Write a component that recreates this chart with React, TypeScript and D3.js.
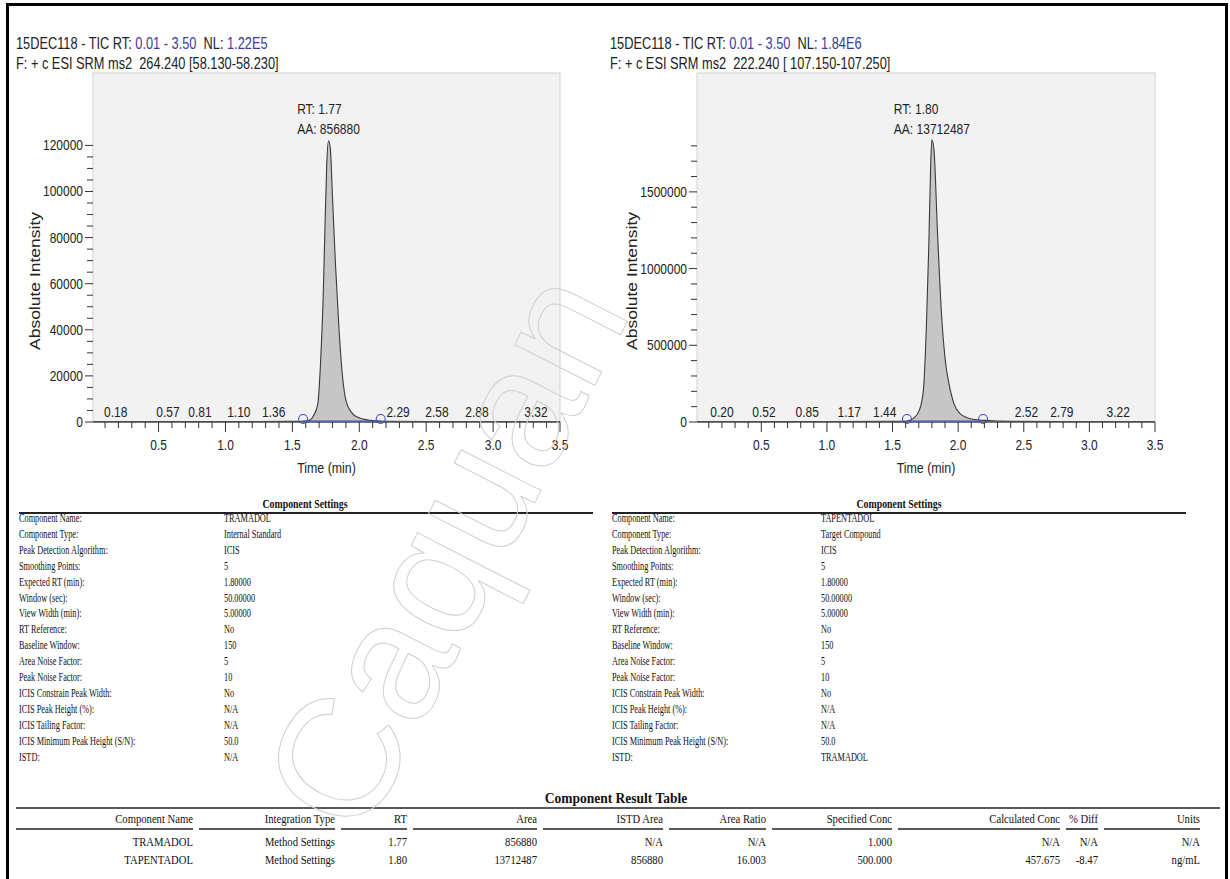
import React from 'react';
import * as d3 from 'd3';

const W = 1230;
const H = 879;
const SANS = "'Liberation Sans', Arial, sans-serif";
const SERIF = "'Liberation Serif', 'Times New Roman', serif";
const BLUE = '#3a3a9e';
const CIRCLE_BLUE = '#3f4fc4';

// ---------------- Chromatogram data ----------------
const TIME_RANGE = [0.01, 3.5];

// TRAMADOL (internal standard) trace: time (min) / intensity
const tramadolTimes = [0.01, 0.5, 1.0, 1.5, 1.59, 1.635, 1.66, 1.69, 1.71, 1.73, 1.743, 1.757, 1.77, 1.783, 1.8, 1.822, 1.849, 1.875, 1.9, 1.94, 1.993, 2.085, 2.19, 2.5, 3.0, 3.5];
const tramadolIntensity = [200, 200, 200, 250, 300, 1000, 2900, 7900, 25000, 54000, 83000, 112000, 122000, 119000, 97400, 68500, 39700, 19500, 9400, 4300, 1900, 700, 300, 200, 200, 200];
const tramadolPeakLabels = ['0.18', '0.57', '0.81', '1.10', '1.36', '2.29', '2.58', '2.88', '3.32'];
const tramadolIntegration = [1.58, 2.16];

// TAPENTADOL (target compound) trace
const tapentadolTimes = [0.01, 1.0, 1.55, 1.61, 1.656, 1.704, 1.735, 1.757, 1.776, 1.791, 1.8, 1.816, 1.842, 1.873, 1.905, 1.93, 1.968, 2.014, 2.092, 2.2, 2.41, 3.0, 3.5];
const tapentadolIntensity = [3000, 3000, 4000, 6500, 21700, 76000, 206000, 598000, 1141000, 1684000, 1840000, 1771000, 1250000, 706000, 380000, 250000, 120000, 54000, 21700, 10800, 4000, 3000, 3000];
const tapentadolPeakLabels = ['0.20', '0.52', '0.85', '1.17', '1.44', '2.52', '2.79', '3.22'];
const tapentadolIntegration = [1.61, 2.19];

const xMajorTicks = [0.5, 1.0, 1.5, 2.0, 2.5, 3.0, 3.5];
const leftYMajor = [0, 20000, 40000, 60000, 80000, 100000, 120000];
const rightYMajor = [0, 500000, 1000000, 1500000];

const leftTitle1 = ['15DEC118 - TIC RT: ', '0.01 - 3.50', '  NL: ', '1.22E5'];
const leftTitle2 = 'F: + c ESI SRM ms2  264.240 [58.130-58.230]';
const rightTitle1 = ['15DEC118 - TIC RT: ', '0.01 - 3.50', '  NL: ', '1.84E6'];
const rightTitle2 = 'F: + c ESI SRM ms2  222.240 [ 107.150-107.250]';

// ---------------- Settings tables ----------------
const settingLabels = [
  'Component Name:', 'Component Type:', 'Peak Detection Algorithm:', 'Smoothing Points:',
  'Expected RT (min):', 'Window (sec):', 'View Width (min):', 'RT Reference:',
  'Baseline Window:', 'Area Noise Factor:', 'Peak Noise Factor:', 'ICIS Constrain Peak Width:',
  'ICIS Peak Height (%):', 'ICIS Tailing Factor:', 'ICIS Minimum Peak Height (S/N):', 'ISTD:',
];
const tramadolSettings = ['TRAMADOL', 'Internal Standard', 'ICIS', '5', '1.80000', '50.00000', '5.00000', 'No', '150', '5', '10', 'No', 'N/A', 'N/A', '50.0', 'N/A'];
const tapentadolSettings = ['TAPENTADOL', 'Target Compound', 'ICIS', '5', '1.80000', '50.00000', '5.00000', 'No', '150', '5', '10', 'No', 'N/A', 'N/A', '50.0', 'TRAMADOL'];

// ---------------- Result table ----------------
const resultHeaders = ['Component Name', 'Integration Type', 'RT', 'Area', 'ISTD Area', 'Area Ratio', 'Specified Conc', 'Calculated Conc', '% Diff', 'Units'];
const tramadolResult = ['TRAMADOL', 'Method Settings', '1.77', '856880', 'N/A', 'N/A', '1.000', 'N/A', 'N/A', 'N/A'];
const tapentadolResult = ['TAPENTADOL', 'Method Settings', '1.80', '13712487', '856880', '16.003', '500.000', '457.675', '-8.47', 'ng/mL'];

// ---------------- helpers ----------------
let _ctx: CanvasRenderingContext2D | null = null;
function measure(text: string, size: number, family = 'Liberation Sans') {
  if (!_ctx && typeof document !== 'undefined') {
    _ctx = document.createElement('canvas').getContext('2d');
  }
  if (!_ctx) return text.length * size * 0.55;
  _ctx.font = `${size}px "${family}"`;
  return _ctx.measureText(text).width;
}

function NText(props: any) {
  const { x, y, k = 0.8, size = 15, anchor = 'start', fill = '#222', family = SANS, weight = 'normal', children } = props;
  return (
    <text
      transform={`translate(${x},${y}) scale(${k},1)`}
      fontSize={size}
      textAnchor={anchor}
      fill={fill}
      fontFamily={family}
      fontWeight={weight}
      style={{ whiteSpace: 'pre' }}
    >
      {children}
    </text>
  );
}

function interpAt(times: number[], vals: number[], t: number) {
  const i = Math.max(0, Math.min(times.length - 2, d3.bisectRight(times, t) - 1));
  const f = (t - times[i]) / (times[i + 1] - times[i]);
  return vals[i] + f * (vals[i + 1] - vals[i]);
}

const TOP = 73;
const BASE = 422;

function Chromatogram(props: any) {
  const { x0, x1, yTop, yMajor, yMinorStep, yMinorMax, times, values, peakLabels, integ, rt, rtText, aaText, titleX, title1, title2, yTitleX } = props;
  const x = d3.scaleLinear().domain(TIME_RANGE).range([x0, x1]);
  const y = d3.scaleLinear().domain([0, yTop]).range([BASE, TOP]);
  const pts: [number, number][] = times.map((t: number, i: number) => [t, values[i]]);
  const line = d3.line<[number, number]>().x(d => x(d[0])).y(d => y(d[1])).curve(d3.curveMonotoneX);
  const fillPts: [number, number][] = [
    [integ[0], interpAt(times, values, integ[0])],
    ...pts.filter(p => p[0] > integ[0] && p[0] < integ[1]),
    [integ[1], interpAt(times, values, integ[1])],
  ];
  const area = d3.area<[number, number]>().x(d => x(d[0])).y0(y(0)).y1(d => y(d[1])).curve(d3.curveMonotoneX);

  const xMinor = d3.range(1, 35).map(v => v / 10).filter(v => Math.abs(v * 2 - Math.round(v * 2)) > 1e-6);
  const yMinor = d3.range(0, yMinorMax + 1, yMinorStep).filter((v: number) => !yMajor.includes(v));

  const aaW = measure(aaText, 15) * 0.8;
  const annX = x(rt) - aaW / 2;

  return (
    <g>
      {/* titles */}
      <NText x={titleX} y={49} size={16}>
        <tspan fill="#222">{title1[0]}</tspan>
        <tspan fill={BLUE}>{title1[1]}</tspan>
        <tspan fill="#222">{title1[2]}</tspan>
        <tspan fill={BLUE}>{title1[3]}</tspan>
      </NText>
      <NText x={titleX} y={68.5} size={16}>{title2}</NText>

      {/* plot box */}
      <rect x={x0} y={TOP} width={x1 - x0} height={BASE - TOP} fill="#f2f2f2" stroke="#d2d2d2" strokeWidth={1} />

      {/* y axis ticks */}
      {yMinor.map((v: number) => (
        <line key={'ym' + v} x1={x0 - 6} x2={x0} y1={y(v)} y2={y(v)} stroke="#333" strokeWidth={1} />
      ))}
      {yMajor.map((v: number) => (
        <g key={'yM' + v}>
          <line x1={x0 - 8} x2={x0} y1={y(v)} y2={y(v)} stroke="#333" strokeWidth={1} />
          <NText x={x0 - 10} y={y(v) + 5} size={15} anchor="end">{String(v)}</NText>
        </g>
      ))}
      <text
        transform={`translate(${yTitleX},281) scale(0.8,1) rotate(-90)`}
        fontSize={17.5}
        fontFamily={SANS}
        textAnchor="middle"
        fill="#222"
      >
        Absolute Intensity
      </text>

      {/* integrated area */}
      <path d={area(fillPts) || ''} fill="#c6c6c6" />
      {/* trace */}
      <path d={line(pts) || ''} fill="none" stroke="#3a3a3a" strokeWidth={1.1} />

      {/* x axis */}
      <line x1={x0} x2={x1} y1={BASE} y2={BASE} stroke="#555" strokeWidth={1.6} />
      {xMinor.map(v => (
        <line key={'xm' + v} x1={x(v)} x2={x(v)} y1={BASE} y2={BASE + 6} stroke="#333" strokeWidth={1} />
      ))}
      {xMajorTicks.map(v => (
        <g key={'xM' + v}>
          <line x1={x(v)} x2={x(v)} y1={BASE} y2={BASE + 10} stroke="#333" strokeWidth={1} />
          <NText x={x(v)} y={450} size={15} anchor="middle">{v.toFixed(1)}</NText>
        </g>
      ))}
      <NText x={(x0 + x1) / 2} y={473} size={15.5} anchor="middle">Time (min)</NText>

      {/* integration baseline + markers */}
      <line x1={x(integ[0])} x2={x(integ[1])} y1={BASE - 1} y2={BASE - 1} stroke={CIRCLE_BLUE} strokeWidth={1.2} />
      {integ.map((t: number) => (
        <circle key={'c' + t} cx={x(t)} cy={BASE - 3} r={4.5} fill="none" stroke={CIRCLE_BLUE} strokeWidth={1.1} />
      ))}

      {/* peak labels */}
      {peakLabels.map((l: string) => (
        <NText key={'pl' + l} x={x(+l)} y={417} size={15} anchor="middle">{l}</NText>
      ))}

      {/* annotation */}
      <NText x={annX} y={114} size={15}>{rtText}</NText>
      <NText x={annX} y={134} size={15}>{aaText}</NText>
    </g>
  );
}

function SettingsTable(props: any) {
  const { labelX, valueX, titleX, lx0, lx1, values } = props;
  const rowY = d3.scaleLinear().domain([0, settingLabels.length - 1]).range([518, 756.5]);
  return (
    <g>
      <NText x={titleX} y={508} size={13.5} k={0.73} family={SERIF} weight="bold" anchor="middle" fill="#111">Component Settings</NText>
      <line x1={lx0} x2={lx1} y1={513} y2={513} stroke="#222" strokeWidth={2} />
      {settingLabels.map((l, i) => (
        <NText key={'l' + i} x={labelX} y={rowY(i) + 4} size={11.5} k={0.72} family={SERIF} fill="#111">{l}</NText>
      ))}
      {values.map((v: string, i: number) => (
        <NText key={'v' + i} x={valueX} y={rowY(i) + 4} size={11.5} k={0.72} family={SERIF} fill="#111">{v}</NText>
      ))}
    </g>
  );
}

function ResultTable() {
  const colRight = [193, 335, 407, 537, 663, 766, 892, 1060, 1098, 1200];
  const rows = [tramadolResult, tapentadolResult];
  const rowBase = [845.5, 863.5];
  return (
    <g>
      <NText x={616} y={803} size={15} k={0.9} family={SERIF} weight="bold" anchor="middle" fill="#111">Component Result Table</NText>
      <line x1={16} x2={1220} y1={808} y2={808} stroke="#222" strokeWidth={1.6} />
      {resultHeaders.map((h, i) => (
        <g key={'h' + i}>
          <NText x={colRight[i]} y={822.5} size={13} k={0.82} family={SERIF} anchor="end" fill="#111">{h}</NText>
          <line x1={i === 0 ? 16 : colRight[i - 1] + 6} x2={colRight[i]} y1={829} y2={829} stroke="#222" strokeWidth={1.6} />
        </g>
      ))}
      {rows.map((r, ri) =>
        r.map((v, i) => (
          <NText key={'r' + ri + '-' + i} x={colRight[i]} y={rowBase[ri]} size={13} k={0.82} family={SERIF} anchor="end" fill="#111">{v}</NText>
        ))
      )}
    </g>
  );
}

function Watermark() {
  return (
    <text
      transform="translate(362,842) rotate(-63)"
      fontSize={170}
      fontFamily={SANS}
      fill="none"
      stroke="#d0d0d0"
      strokeWidth={1}
    >
      Caquan
    </text>
  );
}

export default function App() {
  return (
    <svg
      width={W}
      height={H}
      viewBox={`0 0 ${W} ${H}`}
      style={{ position: 'absolute', left: 0, top: 0, display: 'block', background: '#fff' }}
    >
      <rect x={0} y={0} width={W} height={H} fill="#fff" />
      <Chromatogram
        x0={93} x1={560} yTop={151400} yMajor={leftYMajor} yMinorStep={5000} yMinorMax={120000}
        times={tramadolTimes} values={tramadolIntensity} peakLabels={tramadolPeakLabels}
        integ={tramadolIntegration} rt={1.77} rtText="RT: 1.77" aaText="AA: 856880"
        titleX={16} title1={leftTitle1} title2={leftTitle2} yTitleX={39.5}
      />
      <Chromatogram
        x0={697} x1={1155} yTop={2275000} yMajor={rightYMajor} yMinorStep={100000} yMinorMax={1800000}
        times={tapentadolTimes} values={tapentadolIntensity} peakLabels={tapentadolPeakLabels}
        integ={tapentadolIntegration} rt={1.80} rtText="RT: 1.80" aaText="AA: 13712487"
        titleX={610} title1={rightTitle1} title2={rightTitle2} yTitleX={637}
      />
      <SettingsTable labelX={19} valueX={224} titleX={305} lx0={19} lx1={593} values={tramadolSettings} />
      <SettingsTable labelX={612} valueX={821} titleX={899} lx0={612} lx1={1186} values={tapentadolSettings} />
      <ResultTable />
      <Watermark />
      <rect x={7.5} y={4.5} width={1219} height={H + 20} fill="none" stroke="#000" strokeWidth={3} />
    </svg>
  );
}
